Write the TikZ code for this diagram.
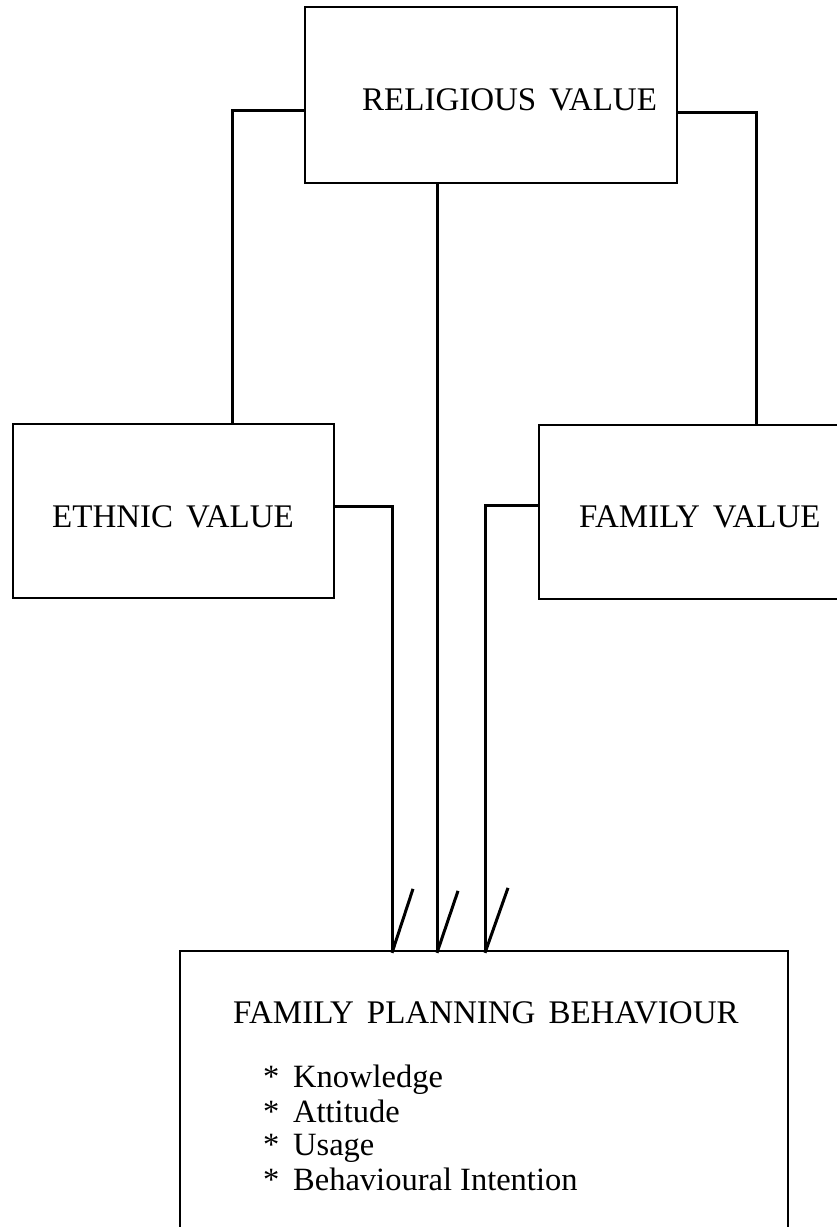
\documentclass[tikz,border=0pt]{standalone}
\usepackage{fontspec}
\setmainfont{Liberation Serif}
\newcommand\widespaces{\spaceskip=13pt plus 2pt\relax}
\begin{document}
\begin{tikzpicture}[x=1pt,y=-1pt,
  valuebox/.style={draw=black, line width=2.3pt, rectangle, inner sep=0pt},
  lbl/.style={anchor=base west, inner sep=0pt, font=\fontsize{33}{33}\selectfont\widespaces},
  itemlbl/.style={anchor=base west, inner sep=0pt, font=\fontsize{32.5}{32.5}\selectfont},
  link/.style={draw=black, line width=3pt, line join=miter},
  tick/.style={draw=black, line width=3pt}]
  \useasboundingbox (0,0) rectangle (837,1227);
  \clip (0,0) rectangle (837,1227);
  \fill[white] (0,0) rectangle (837,1227);

  % boxes
  \node[valuebox, minimum width=372pt, minimum height=176pt] (rel) at (491,95) {};
  \node[valuebox, minimum width=321pt, minimum height=174pt] (eth) at (173.5,511) {};
  \node[valuebox, minimum width=321pt, minimum height=174pt] (fam) at (699.5,512) {};
  \node[valuebox, minimum width=608pt, minimum height=320pt] (fpb) at (484,1111) {};

  % labels
  \node[lbl] (relt) at (362,110) {RELIGIOUS VALUE};
  \node[lbl] (etht) at (52,527) {ETHNIC VALUE};
  \node[lbl] (famt) at (579,527) {FAMILY VALUE};
  \node[lbl] (fpbt) at (233,1023) {FAMILY PLANNING BEHAVIOUR};
  \foreach \y/\word [count=\i] in {1087/Knowledge, 1122/Attitude, 1155/Usage, 1190/Behavioural Intention}{
    \node[itemlbl] (star\i) at (263,\y) {*};
    \node[itemlbl] (item\i) at (293,\y) {\word};
  }

  % bend points of the connectors
  \coordinate (relL) at (232,110);
  \coordinate (relR) at (756,112);
  \coordinate (relB) at (437,0);
  \coordinate (ethR) at (392,506);
  \coordinate (famL) at (485,505);

  % religious value to ethnic and family value
  \draw[link] (relL -| rel.west) -- (relL) -- (eth.north -| relL);
  \draw[link] (relR -| rel.east) -- (relR) -- (fam.north -| relR);

  % the three influences on family planning behaviour
  \draw[link] (ethR -| eth.east) -- (ethR) -- (fpb.north -| ethR) coordinate (e1);
  \draw[link] (rel.south -| relB) -- (fpb.north -| relB) coordinate (e2);
  \draw[link] (famL -| fam.west) -- (famL) -- (fpb.north -| famL) coordinate (e3);

  % half-arrow ticks at the ends
  \draw[tick] ([yshift=-3pt]e1) -- ++(21,-64);
  \draw[tick] ([yshift=-3pt]e2) -- ++(21,-62);
  \draw[tick] ([yshift=-3pt]e3) -- ++(23,-65);
\end{tikzpicture}
\end{document}
